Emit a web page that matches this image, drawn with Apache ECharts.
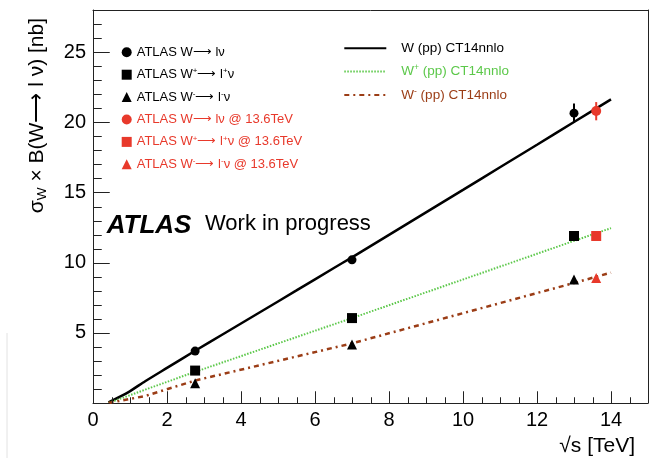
<!DOCTYPE html>
<html><head><meta charset="utf-8">
<script src="https://cdn.jsdelivr.net/npm/echarts@6/dist/echarts.min.js"></script>
<style>html,body{margin:0;padding:0;background:#fff}#c{width:652px;height:458px}</style>
</head><body><div id="c"></div>
<script>
const FONT = '"Liberation Sans", Arial, Helvetica, sans-serif';

// Measurements (sqrt(s) in TeV, cross sections in nb)
const energies = [2.76, 7, 13];
const wTot = [3.70, 10.2, 20.65];
const wPlus = [2.31, 6.05, 11.9];
const wMinus = [1.40, 4.16, 8.8];
const energy136 = [13.6];
const wTot136 = [20.8];
const wPlus136 = [11.9];
const wMinus136 = [8.9];
// error bars [x, low, high]
const errBlackX = [13];
const errBlackLow = [19.96];
const errBlackHigh = [21.34];
const errRedX = [13.6];
const errRedLow = [20.14];
const errRedHigh = [21.44];

// CT14nnlo predictions
const thW_x = [0.42, 0.96, 1.41, 2.0, 2.76, 3.5, 4.5, 5.5, 6.5, 7.0, 8, 9, 10, 11, 12, 13, 14];
const thW_y = [0.05, 0.78, 1.55, 2.5, 3.72, 4.88, 6.45, 8.02, 9.6, 10.38, 11.98, 13.58, 15.18, 16.8, 18.4, 20.02, 21.63];
const thWp_x = [0.42, 1.41, 2.76, 7, 10, 13, 14];
const thWp_y = [0.0, 0.95, 2.22, 6.05, 8.8, 11.55, 12.46];
const thWm_x = [0.42, 1.41, 2.76, 7, 10, 13, 14];
const thWm_y = [0.0, 0.5, 1.6, 4.25, 6.4, 8.55, 9.29];

// axis ticks
const xMajorTicks = [0, 2, 4, 6, 8, 10, 12, 14];
const xMinorTicks = [0.5, 1, 1.5, 2.5, 3, 3.5, 4.5, 5, 5.5, 6.5, 7, 7.5, 8.5, 9, 9.5, 10.5, 11, 11.5, 12.5, 13, 13.5, 14.5];
const yMajorTicks = [0, 5, 10, 15, 20, 25];
const yMinorTicks = [1, 2, 3, 4, 6, 7, 8, 9, 11, 12, 13, 14, 16, 17, 18, 19, 21, 22, 23, 24, 26, 27];

const ARROW = '⟶';
const legendLabels = {
  'Wtot': 'ATLAS W' + ARROW + ' lν',
  'Wplus': 'ATLAS W{sup|+}' + ARROW + ' l{sup|+}ν',
  'Wminus': 'ATLAS W{sup|-}' + ARROW + ' l{sup|-}ν',
  'Wtot136': 'ATLAS W' + ARROW + ' lν @ 13.6TeV',
  'Wplus136': 'ATLAS W{sup|+}' + ARROW + ' l{sup|+}ν @ 13.6TeV',
  'Wminus136': 'ATLAS W{sup|-}' + ARROW + ' l{sup|-}ν @ 13.6TeV',
  'thW': 'W (pp) CT14nnlo',
  'thWp': 'W{sup|+} (pp) CT14nnlo',
  'thWm': 'W{sup|-} (pp) CT14nnlo'
};

const RED = '#e8392b', GREEN = '#5cc84a', BROWN = '#9b3d16', AX = '#222';

const zip = (xs, ys) => xs.map((x, i) => [x, ys[i]]);
const zip3 = (xs, a, b) => xs.map((x, i) => [x, a[i], b[i]]);

function errBar(color) {
  return (params, api) => {
    const p1 = api.coord([api.value(0), api.value(1)]);
    const p2 = api.coord([api.value(0), api.value(2)]);
    return {type: 'line', shape: {x1: p1[0], y1: p1[1], x2: p2[0], y2: p2[1]},
            style: {stroke: color, lineWidth: 2}};
  };
}

function tickShape(p, dir, len) {
  const px = Math.round(p[0]) + 0.5, py = Math.round(p[1]) + 0.5;
  return dir === 'x' ? {x1: px, y1: py, x2: px, y2: py - len}
                     : {x1: px, y1: py, x2: px + len, y2: py};
}

// ticks drawn inward from the axes through the axis scales
function tickSeries(name, vals, dir, len) {
  return {
    name, type: 'custom', silent: true, clip: false, z: 10, zlevel: 1,
    data: vals.map(v => dir === 'x' ? [v, 0] : [0, v]),
    renderItem: (params, api) => ({
      type: 'line', shape: tickShape(api.coord([api.value(0), api.value(1)]), dir, len),
      style: {stroke: AX, lineWidth: 1}
    })
  };
}

const supRich = (fs) => ({sup: {fontSize: fs, verticalAlign: 'top', fontFamily: FONT}});

const chart = echarts.init(document.getElementById('c'), null, {renderer: 'canvas'});
chart.setOption({
  animation: false,
  backgroundColor: '#fff',
  grid: {left: 93, right: 4, top: 10, bottom: 55},
  xAxis: [{
    type: 'value', min: 0, max: 15, interval: 1, position: 'bottom',
    axisLine: {show: true, onZero: false, lineStyle: {color: AX, width: 1}},
    axisTick: {show: false},
    axisLabel: {margin: 7, fontSize: 20, fontFamily: FONT, color: '#000',
      formatter: v => xMajorTicks.includes(v) ? String(v) : ''},
    splitLine: {show: false},
    name: '√s [TeV]', nameLocation: 'end', nameGap: -13,
    nameTextStyle: {fontSize: 21, fontFamily: FONT, color: '#000', align: 'right', verticalAlign: 'top', padding: [33, 0, 0, 0]}
  }, {
    type: 'value', min: 0, max: 15, position: 'top',
    axisLine: {show: true, onZero: false, lineStyle: {color: AX, width: 1}},
    axisTick: {show: false}, axisLabel: {show: false}, splitLine: {show: false}
  }],
  yAxis: [{
    type: 'value', min: 0, max: 28, interval: 5, position: 'left',
    axisLine: {show: true, onZero: false, lineStyle: {color: AX, width: 1}},
    axisTick: {show: false},
    axisLabel: {margin: 7, fontSize: 20, fontFamily: FONT, color: '#000',
      formatter: v => (yMajorTicks.includes(v) && v !== 0) ? String(v) : ''},
    splitLine: {show: false}
  }, {
    type: 'value', min: 0, max: 28, position: 'right',
    axisLine: {show: true, onZero: false, lineStyle: {color: AX, width: 1}},
    axisTick: {show: false}, axisLabel: {show: false}, splitLine: {show: false}
  }],
  legend: [{
    orient: 'vertical', left: 121.7, top: 44.8, padding: 0, itemWidth: 10, itemHeight: 10, itemGap: 7.4,
    selectedMode: false, data: ['Wtot', 'Wplus', 'Wminus'],
    formatter: n => legendLabels[n],
    textStyle: {fontSize: 13, fontFamily: FONT, color: '#000', lineHeight: 15, rich: supRich(8)}
  }, {
    orient: 'vertical', left: 121.7, top: 112, padding: 0, itemWidth: 10, itemHeight: 10, itemGap: 7.4,
    selectedMode: false, data: ['Wtot136', 'Wplus136', 'Wminus136'],
    formatter: n => legendLabels[n],
    textStyle: {fontSize: 13, fontFamily: FONT, color: RED, lineHeight: 15, rich: supRich(8)}
  }, {
    orient: 'vertical', left: 343.3, top: 40.3, padding: 0, itemWidth: 42, itemHeight: 14, itemGap: 7.3,
    selectedMode: false,
    itemStyle: {opacity: 0},
    data: [
      {name: 'thW', textStyle: {color: '#000'}},
      {name: 'thWp', textStyle: {color: GREEN}},
      {name: 'thWm', textStyle: {color: BROWN}}
    ],
    formatter: n => legendLabels[n],
    textStyle: {fontSize: 13.5, fontFamily: FONT, lineHeight: 16, padding: [0, 0, 0, 10], rich: supRich(8.5)}
  }],
  graphic: [
    {id: 'atlas', type: 'text', left: 106.7, top: 212.5, style: {text: 'ATLAS', font: 'italic bold 26px ' + FONT, fill: '#000'}},
    {id: 'wip', type: 'text', left: 205, top: 213, style: {text: 'Work in progress', font: '22px ' + FONT, fill: '#000'}},
    {id: 'ytitle', type: 'text', x: 37, y: 18, rotation: Math.PI / 2,
      style: {text: '{n|σ}{sub|W}{n| × B(W' + ARROW + ' l ν) [nb]}', align: 'right', verticalAlign: 'middle',
        rich: {n: {fontSize: 21, fontFamily: FONT, lineHeight: 25, fill: '#000'},
               sub: {fontSize: 13.5, fontFamily: FONT, verticalAlign: 'bottom', fill: '#000'}}}},
    {id: 'edge', type: 'line', shape: {x1: 7, y1: 333, x2: 7, y2: 458}, style: {stroke: '#e2e2e2', lineWidth: 1}}
  ],
  series: [
    tickSeries('tickXMaj', xMajorTicks, 'x', 12),
    tickSeries('tickXMin', xMinorTicks, 'x', 6),
    tickSeries('tickYMaj', yMajorTicks, 'y', 16),
    tickSeries('tickYMin', yMinorTicks, 'y', 8),
    {name: 'thW', type: 'line', data: zip(thW_x, thW_y), symbol: 'none', showSymbol: false, z: 2, smooth: 0.25,
      lineStyle: {color: '#000', width: 2.5}, itemStyle: {color: '#000'}},
    {name: 'thWp', type: 'line', data: zip(thWp_x, thWp_y), symbol: 'none', showSymbol: false, z: 2,
      lineStyle: {color: GREEN, width: 2, type: [1.5, 1.5]}, itemStyle: {color: GREEN}},
    {name: 'thWm', type: 'line', data: zip(thWm_x, thWm_y), symbol: 'none', showSymbol: false, z: 2,
      lineStyle: {color: BROWN, width: 2.5, type: [5, 4, 2, 4]}, itemStyle: {color: BROWN}},
    {name: 'errBlack', type: 'custom', renderItem: errBar('#000'), data: zip3(errBlackX, errBlackLow, errBlackHigh), z: 3},
    {name: 'errRed', type: 'custom', renderItem: errBar(RED), data: zip3(errRedX, errRedLow, errRedHigh), z: 3},
    {name: 'Wtot', type: 'scatter', symbol: 'circle', symbolSize: 9, data: zip(energies, wTot), itemStyle: {color: '#000', opacity: 1}, z: 4},
    {name: 'Wplus', type: 'scatter', symbol: 'rect', symbolSize: 10, data: zip(energies, wPlus), itemStyle: {color: '#000', opacity: 1}, z: 4},
    {name: 'Wminus', type: 'scatter', symbol: 'triangle', symbolSize: 10, data: zip(energies, wMinus), itemStyle: {color: '#000', opacity: 1}, z: 4},
    {name: 'Wtot136', type: 'scatter', symbol: 'circle', symbolSize: 10, data: zip(energy136, wTot136), itemStyle: {color: RED, opacity: 1}, z: 4},
    {name: 'Wplus136', type: 'scatter', symbol: 'rect', symbolSize: 10, data: zip(energy136, wPlus136), itemStyle: {color: RED, opacity: 1}, z: 4},
    {name: 'Wminus136', type: 'scatter', symbol: 'triangle', symbolSize: 10, data: zip(energy136, wMinus136), itemStyle: {color: RED, opacity: 1}, z: 4}
  ]
});

// second route for the ticks: positions obtained from the chart's own scales
const tickGraphics = [];
const addTicks = (vals, dir, len, tag) => vals.forEach((v, i) => {
  const p = chart.convertToPixel({xAxisIndex: 0, yAxisIndex: 0}, dir === 'x' ? [v, 0] : [0, v]);
  if (p) tickGraphics.push({id: tag + i, type: 'line', zlevel: 1, z: 100, silent: true,
    shape: tickShape(p, dir, len), style: {stroke: AX, lineWidth: 1}});
});
addTicks(xMajorTicks, 'x', 12, 'gxM');
addTicks(xMinorTicks, 'x', 6, 'gxm');
addTicks(yMajorTicks, 'y', 16, 'gyM');
addTicks(yMinorTicks, 'y', 8, 'gym');
chart.setOption({graphic: tickGraphics});
</script></body></html>
